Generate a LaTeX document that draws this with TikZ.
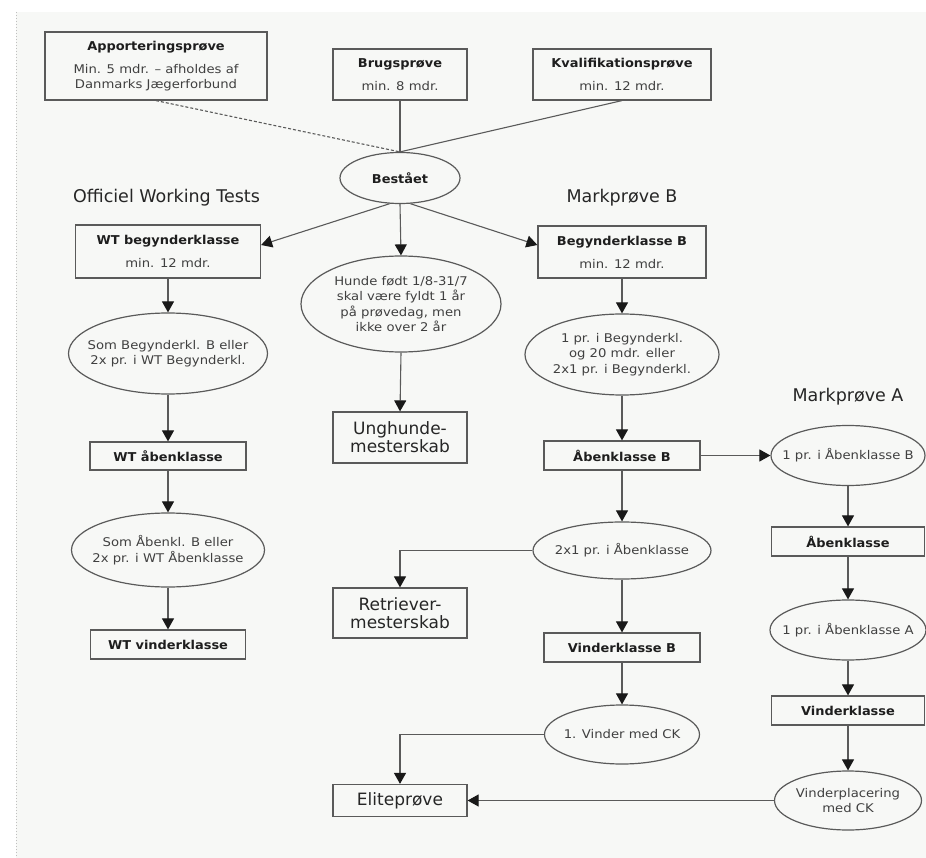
\documentclass[tikz,border=0pt]{standalone}
\usepackage{fontspec}
\usetikzlibrary{shapes.geometric,arrows.meta}
\newfontfamily\regf{DejaVu Sans}[FakeStretch=1.1]
\newfontfamily\boldf{DejaVu Sans}[FakeStretch=1.06]
\newfontfamily\bigf{DejaVu Sans}
\definecolor{bgc}{HTML}{F7F8F6}
\definecolor{linec}{HTML}{5A5A5A}
\definecolor{txtc}{HTML}{404040}
\definecolor{boldc}{HTML}{1E1E1E}
\newcommand\mysmall{\regf\fontsize{12}{15.5}\selectfont}
\newcommand\mybold{\boldf\bfseries\fontsize{12.2}{15}\selectfont\color{boldc}}
\newcommand\mybig{\bigf\fontsize{17}{18}\selectfont}
\newcommand\myhead{\bigf\fontsize{17.5}{20}\selectfont}
\tikzset{
  box/.style={draw=linec, line width=1.2pt, rectangle, inner sep=0pt, align=center, font=\mysmall, text=txtc},
  bigbox/.style={draw=linec, line width=1.2pt, rectangle, inner sep=0pt, align=center, font=\mybig, text=black!85},
  oval/.style={draw=linec, line width=1.2pt, ellipse, inner xsep=-40pt, inner ysep=-12pt, align=center, font=\mysmall, text=txtc},
  head/.style={font=\myhead, text=black!85, inner sep=0pt},
  conn/.style={draw=linec, line width=1.1pt},
  dconn/.style={draw=linec, line width=1.1pt, dash pattern=on 3pt off 2pt},
  arr/.style={draw=linec, line width=1.1pt, -{Triangle[length=11pt,width=12pt,color=black!90]}},
}
\begin{document}
\begin{tikzpicture}[x=1pt,y=-1pt]
\useasboundingbox (0,0) rectangle (926,858);
\fill[bgc] (16,12) rectangle (926,858);
\draw[gray!50, line width=1pt, dotted] (16,12) -- (16,858);

% top row
\node[box, minimum width=222pt, minimum height=68pt] (appo) at (156,66)
  {{\mybold Apporteringsprøve}\\[7.5pt]Min. 5 mdr. – afholdes af\\Danmarks Jægerforbund};
\node[box, minimum width=134pt, minimum height=51pt] (brug) at (400,74.5)
  {{\mybold Brugsprøve}\\[7.5pt]min. 8 mdr.};
\node[box, minimum width=178pt, minimum height=51pt] (kval) at (622,74.5)
  {{\mybold Kvalifikationsprøve}\\[7.5pt]min. 12 mdr.};
\node[oval, minimum width=120pt, minimum height=51pt] (best) at (400,178)
  {{\mybold Bestået}};

% headings
\node[head] (hwt) at (166.5,198) {Officiel Working Tests};
\node[head] (hmb) at (622,198) {Markprøve B};
\node[head] (hma) at (848,397) {Markprøve A};

% left column
\node[box, minimum width=185pt, minimum height=53pt] (wtb) at (168,251.5)
  {{\mybold WT begynderklasse}\\[7.5pt]min. 12 mdr.};
\node[oval, minimum width=199pt, minimum height=81pt] (som1) at (168,353.5)
  {Som Begynderkl. B eller\\2x pr. i WT Begynderkl.};
\node[box, minimum width=156pt, minimum height=28pt] (wta) at (168,456)
  {{\mybold WT åbenklasse}};
\node[oval, minimum width=193pt, minimum height=74pt] (som2) at (168,550)
  {Som Åbenkl. B eller\\2x pr. i WT Åbenklasse};
\node[box, minimum width=155pt, minimum height=29pt] (wtv) at (168,644.5)
  {{\mybold WT vinderklasse}};

% middle column
\node[oval, minimum width=200pt, minimum height=96pt] (hunde) at (401,304)
  {Hunde født 1/8-31/7\\skal være fyldt 1 år\\på prøvedag, men\\ikke over 2 år};
\node[bigbox, minimum width=134pt, minimum height=51pt] (ung) at (400,437.5)
  {Unghunde-\\mesterskab};
\node[bigbox, minimum width=134pt, minimum height=50pt] (retr) at (400,613)
  {Retriever-\\mesterskab};
\node[bigbox, minimum width=134pt, minimum height=32pt] (elite) at (400,800.5)
  {Eliteprøve};

% Markprøve B column
\node[box, minimum width=168pt, minimum height=52pt] (begB) at (622,252)
  {{\mybold Begynderklasse B}\\[7.5pt]min. 12 mdr.};
\node[oval, minimum width=194pt, minimum height=81pt] (e1) at (622,354.5)
  {1 pr. i Begynderkl.\\og 20 mdr. eller\\2x1 pr. i Begynderkl.};
\node[box, minimum width=156pt, minimum height=29pt] (abB) at (622,455.5)
  {{\mybold Åbenklasse B}};
\node[oval, minimum width=178pt, minimum height=57pt] (e2x1) at (622,550.5)
  {2x1 pr. i Åbenklasse};
\node[box, minimum width=156pt, minimum height=29pt] (vinB) at (622,647.5)
  {{\mybold Vinderklasse B}};
\node[oval, minimum width=155pt, minimum height=59pt] (e1v) at (622,734.5)
  {1. Vinder med CK};

% Markprøve A column
\node[oval, minimum width=154pt, minimum height=60pt] (eab) at (848,455.5)
  {1 pr. i Åbenklasse B};
\node[box, minimum width=153pt, minimum height=29pt] (abk) at (848,541.5)
  {{\mybold Åbenklasse}};
\node[oval, minimum width=156pt, minimum height=60pt] (eabA) at (848,630)
  {1 pr. i Åbenklasse A};
\node[box, minimum width=153pt, minimum height=29pt] (vink) at (848,710.5)
  {{\mybold Vinderklasse}};
\node[oval, minimum width=147pt, minimum height=59pt] (evp) at (848,800.5)
  {Vinderplacering\\med CK};

% connectors
\draw[dconn] (appo.south) -- (best.north);
\draw[conn] (brug.south) -- (best.north);
\draw[conn] (kval.south) -- (best.north);
\draw[arr] (best.248) -- ([yshift=6.5pt]wtb.east);
\draw[arr] (best.south) -- (hunde.north);
\draw[arr] (best.292) -- ([yshift=7pt]begB.west);

\draw[arr] (wtb.south) -- (som1.north);
\draw[arr] (som1.south) -- (wta.north);
\draw[arr] (wta.south) -- (som2.north);
\draw[arr] (som2.south) -- (wtv.north);

\draw[arr] (hunde.south) -- (ung.north);

\draw[arr] (begB.south) -- (e1.north);
\draw[arr] (e1.south) -- (abB.north);
\draw[arr] (abB.south) -- (e2x1.north);
\draw[arr] (e2x1.south) -- (vinB.north);
\draw[arr] (vinB.south) -- (e1v.north);
\draw[arr] (abB.east) -- (eab.west);
\draw[arr] (e2x1.west) -| (retr.north);
\draw[arr] (e1v.west) -| (elite.north);

\draw[arr] (eab.south) -- (abk.north);
\draw[arr] (abk.south) -- (eabA.north);
\draw[arr] (eabA.south) -- (vink.north);
\draw[arr] (vink.south) -- (evp.north);
\draw[arr] (evp.west) -- (elite.east);
\end{tikzpicture}
\end{document}
